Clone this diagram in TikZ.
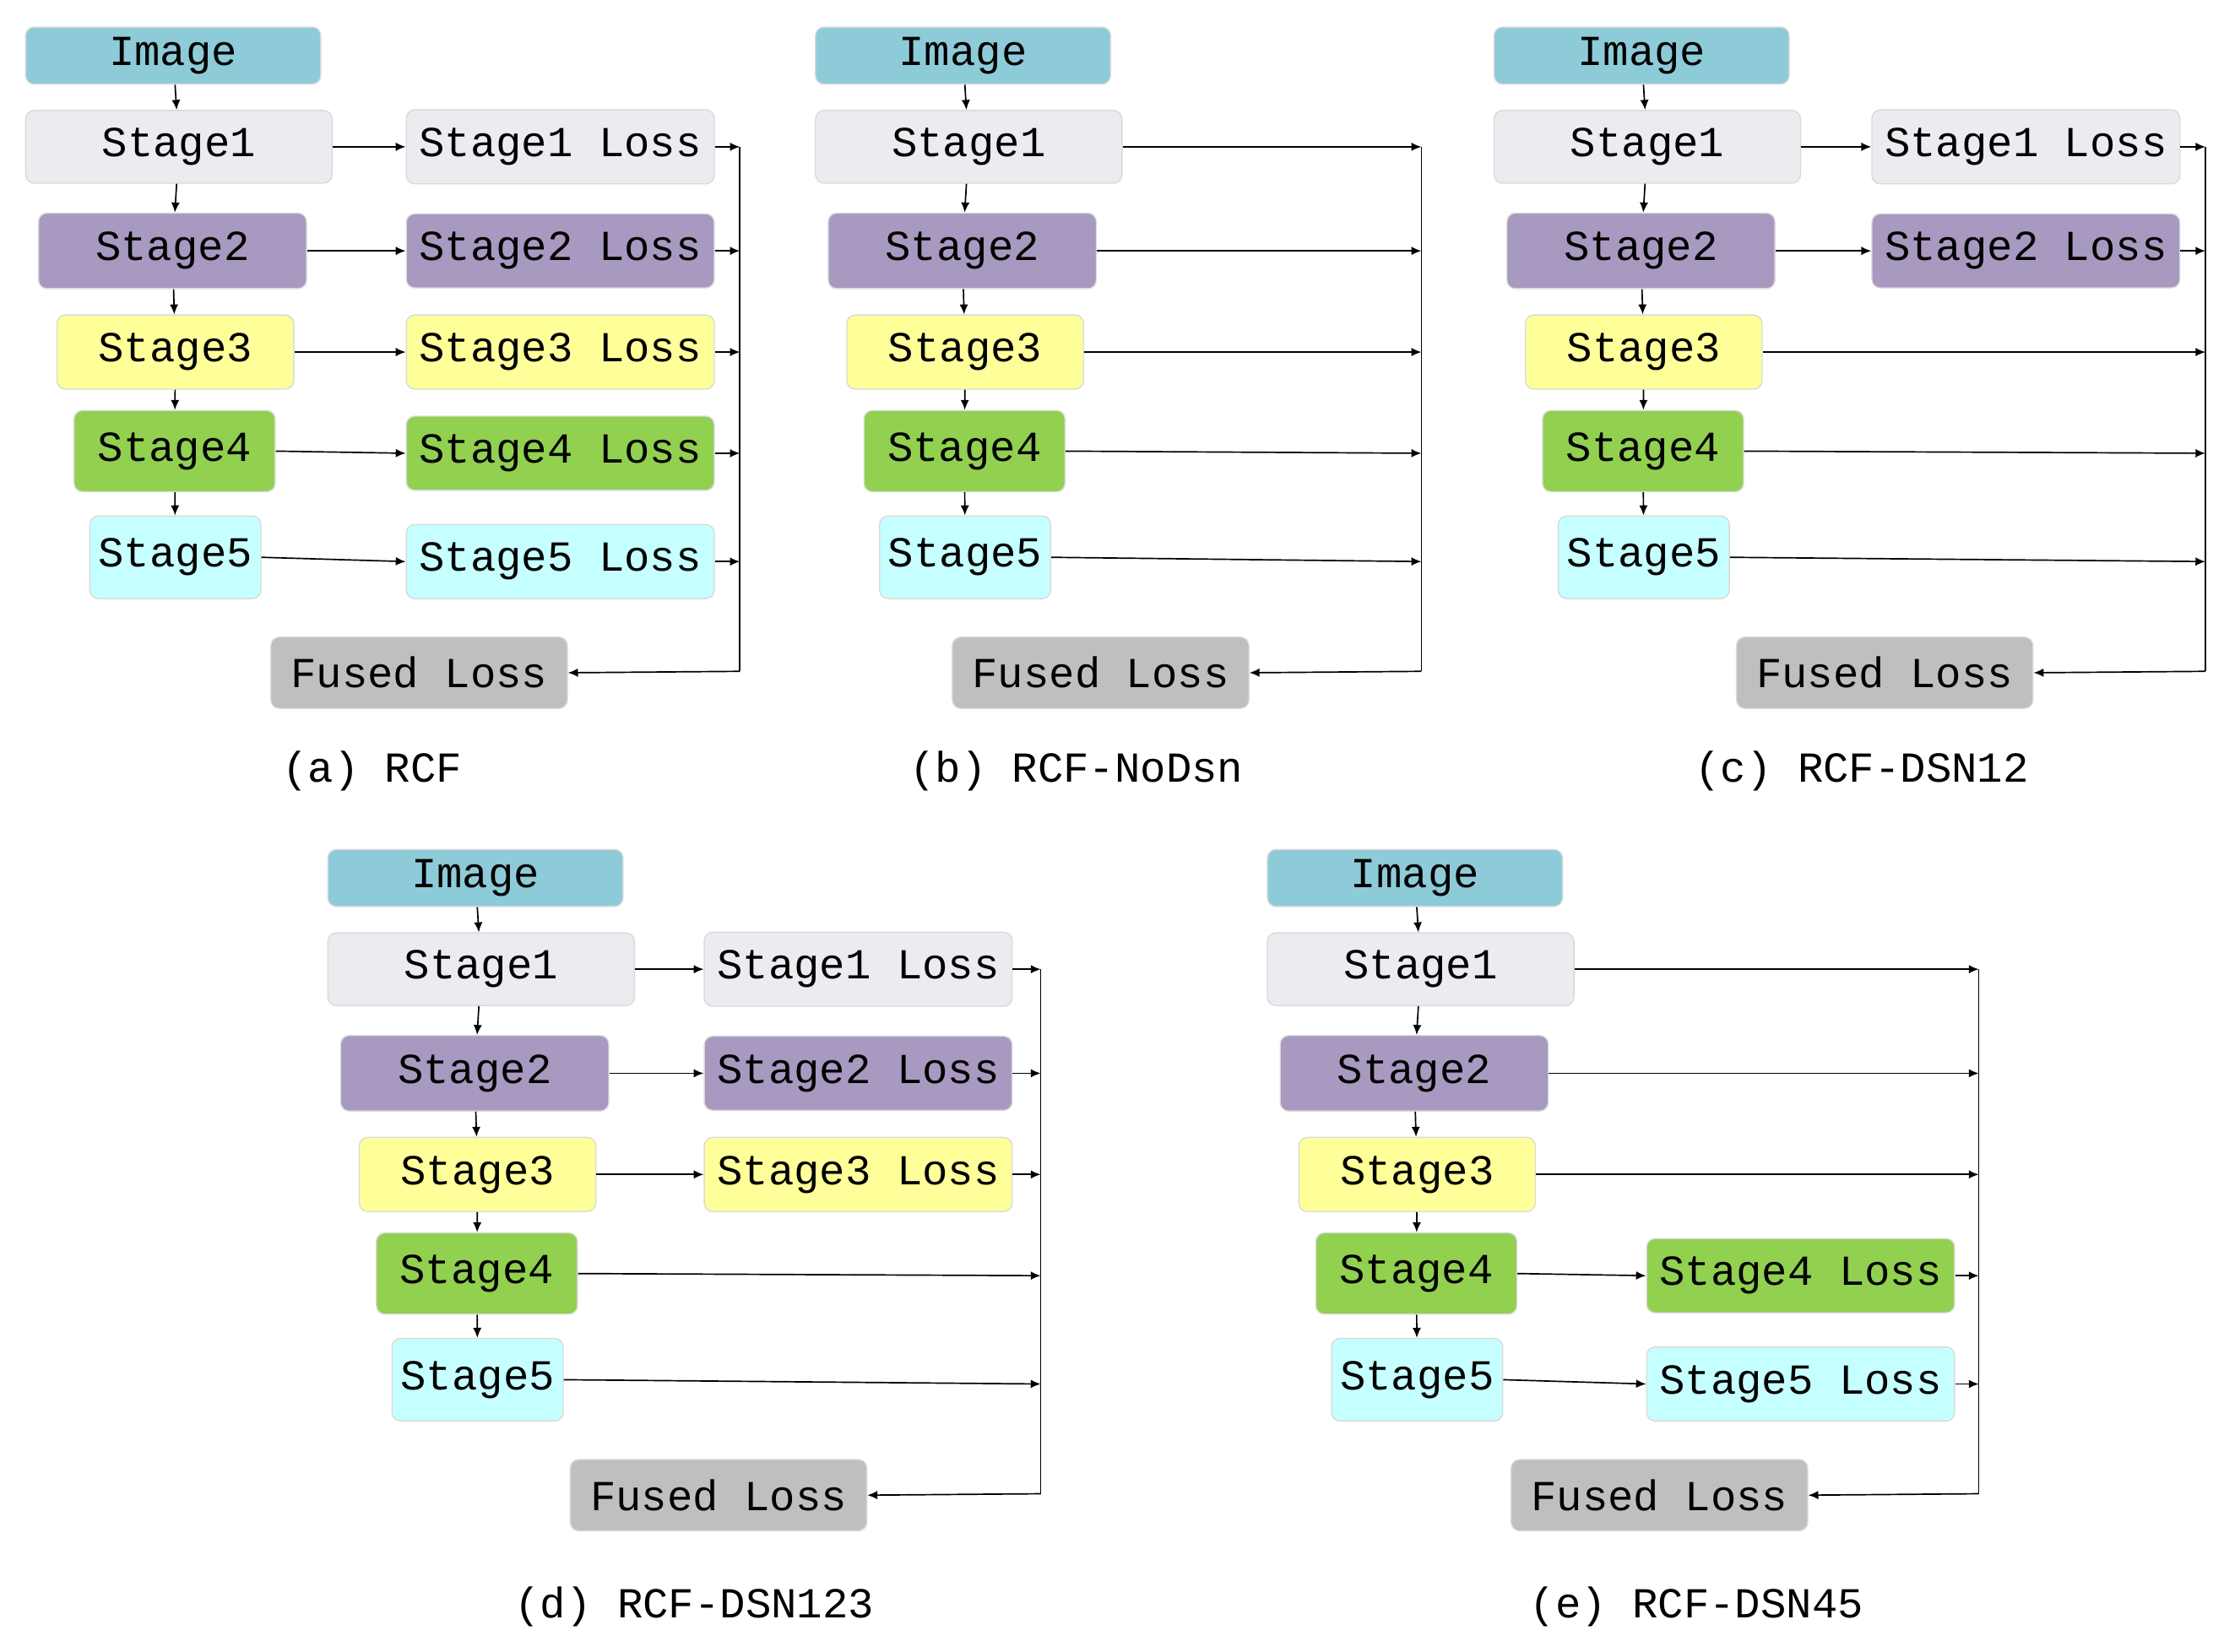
\documentclass[tikz,border=0pt]{standalone}
\usepackage{fontspec}
\setmainfont{Liberation Mono}
\usetikzlibrary{arrows.meta}
\definecolor{cimg}{RGB}{142,203,216}
\definecolor{cs1}{RGB}{237,235,240}
\definecolor{cs2}{RGB}{168,153,192}
\definecolor{cs3}{RGB}{255,255,153}
\definecolor{cs4}{RGB}{146,208,80}
\definecolor{cs5}{RGB}{198,255,255}
\definecolor{cfus}{RGB}{191,191,191}
\tikzset{
 box/.style={rounded corners=6pt, draw=black!15, line width=0.8pt, inner sep=0pt,
   font=\fontsize{30}{30}\selectfont},
 arr/.style={-{Latex[length=7pt,width=6pt]}, line width=1pt},
 ln/.style={line width=1pt},
 captxt/.style={font=\fontsize{30}{30}\selectfont}
}
\newcommand\drawpanel[8]{%
 \node[box, fill=cimg, minimum width=207pt, minimum height=40pt] (#8img) at ({#1+121.5},{-(#2+39)}) {Image};
 \node[box, fill=cs1, minimum width=215pt, minimum height=51pt] (#8s1) at ({#1+125.5},{-(#2+103)}) {Stage1};
 \node[box, fill=cs2, minimum width=188pt, minimum height=53pt] (#8s2) at ({#1+121},{-(#2+176)}) {Stage2};
 \node[box, fill=cs3, minimum width=166pt, minimum height=52pt] (#8s3) at ({#1+123},{-(#2+247)}) {Stage3};
 \node[box, fill=cs4, minimum width=141pt, minimum height=57pt] (#8s4) at ({#1+122.5},{-(#2+316.5)}) {Stage4};
 \node[box, fill=cs5, minimum width=120pt, minimum height=58pt] (#8s5) at ({#1+123},{-(#2+391)}) {Stage5};
 \draw[arr] (#8img) -- (#8s1);
 \draw[arr] (#8s1) -- (#8s2);
 \draw[arr] (#8s2) -- (#8s3);
 \draw[arr] (#8s3) -- (#8s4);
 \draw[arr] (#8s4) -- (#8s5);
 \node[box, fill=cfus, minimum width=208pt, minimum height=50pt] (#8fus) at ({#4+104},{-(#2+472)}) {Fused Loss};
 \coordinate (#8top) at (#3,{-(#2+103)});
 \coordinate (#8bot) at (#3,{-(#2+471)});
 \draw[ln] (#8top) -- (#8bot);
 \draw[arr] (#8bot) -- (#8fus.east);
 \foreach \i in {#6}{%
   \pgfmathsetmacro\yy{{103,176,247,318,394}[\i-1]}
   \node[box, fill=cs\i, minimum width=216pt, minimum height=52pt] (#8L\i) at ({#5+108},{-(#2+\yy)}) {Stage\i\ Loss};
   \coordinate (#8B\i) at (#3,{-(#2+\yy)});
   \draw[arr] (#8s\i.east) -- (#8L\i.west);
   \draw[arr] (#8L\i.east) -- (#8B\i);
 }
 \foreach \i in {#7}{%
   \pgfmathsetmacro\yy{{103,176,247,318,394}[\i-1]}
   \coordinate (#8B\i) at (#3,{-(#2+\yy)});
   \draw[arr] (#8s\i.east) -- (#8B\i);
 }
}
\begin{document}
\begin{tikzpicture}[x=1pt,y=1pt]
\useasboundingbox (0,0) rectangle (1560,-1159);
\drawpanel{0}{0}{519}{190}{285}{1,2,3,4,5}{}{a}
\drawpanel{554}{0}{997}{668}{0}{}{1,2,3,4,5}{b}
\drawpanel{1030}{0}{1547}{1218}{1313}{1,2}{3,4,5}{c}
\drawpanel{212}{577}{730}{400}{494}{1,2,3}{4,5}{d}
\drawpanel{871}{577}{1388}{1060}{1155}{4,5}{1,2,3}{e}
\node[captxt] (ca) at (261,-541) {(a) RCF};
\node[captxt] (cb) at (755,-541) {(b) RCF-NoDsn};
\node[captxt] (cc) at (1306,-541) {(c) RCF-DSN12};
\node[captxt] (cd) at (487,-1127) {(d) RCF-DSN123};
\node[captxt] (ce) at (1190,-1127) {(e) RCF-DSN45};
\end{tikzpicture}
\end{document}
